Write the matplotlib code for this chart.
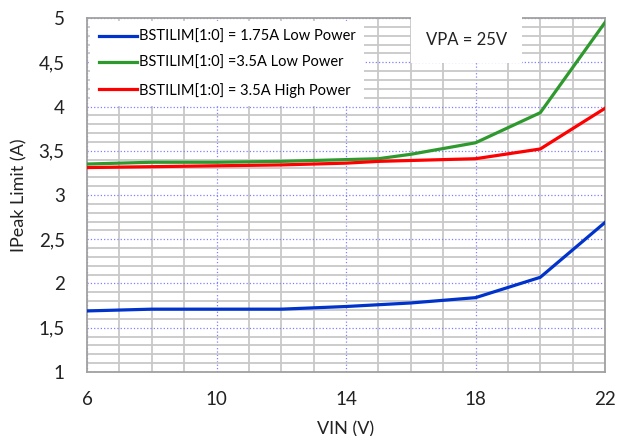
import numpy as np
import matplotlib.pyplot as plt
from matplotlib.ticker import MultipleLocator, FixedLocator, FuncFormatter

plt.rcParams['font.family'] = ['Lato', 'DejaVu Sans']

# data
vin = [6, 8, 10, 12, 14, 15, 16, 18, 20, 22]
low_175 = [1.69, 1.71, 1.71, 1.71, 1.74, 1.76, 1.78, 1.84, 2.07, 2.69]
low_35 = [3.35, 3.37, 3.37, 3.38, 3.40, 3.41, 3.46, 3.59, 3.93, 4.95]
high_35 = [3.31, 3.32, 3.33, 3.34, 3.36, 3.38, 3.39, 3.41, 3.52, 3.98]
x_ticks = [6, 10, 14, 18, 22]
labels = ["BSTILIM[1:0] = 1.75A Low Power",
          "BSTILIM[1:0] =3.5A Low Power",
          "BSTILIM[1:0] = 3.5A High Power"]
colors = ["#0033cc", "#2e9a2e", "#ff0000"]

fig = plt.figure(figsize=(6.18, 4.36), dpi=100)
ax = fig.add_axes([0.1408, 0.1468, 0.979 - 0.1408, 0.9587 - 0.1468])

for y, lab, c in zip([low_175, low_35, high_35], labels, colors):
    ax.plot(vin, y, color=c, lw=2.3, label=lab, zorder=3)

ax.set_xlim(6, 22)
ax.set_ylim(1, 5)
ax.xaxis.set_major_locator(FixedLocator(x_ticks))
ax.xaxis.set_minor_locator(MultipleLocator(1))
ax.yaxis.set_major_locator(MultipleLocator(0.5))
ax.yaxis.set_minor_locator(MultipleLocator(0.1))
ax.yaxis.set_major_formatter(FuncFormatter(lambda v, p: ('%g' % v).replace('.', ',')))

ax.grid(which='minor', color='#c8c8c8', lw=1.3, zorder=0)
ax.grid(which='major', color='#8080ff', lw=0.9, ls=':', zorder=1)
ax.set_axisbelow(True)
ax.tick_params(which='both', length=0, labelsize=13.5, colors='#222222')
ax.tick_params(axis='x', pad=14)
ax.tick_params(axis='y', pad=16)
for s in ax.spines.values():
    s.set_color('#a0a0a0')
    s.set_linewidth(1.3)

ax.set_xlabel("VIN (V)", fontsize=13, color='#222222', labelpad=9)
ax.set_ylabel("IPeak Limit (A)", fontsize=13, color='#222222', labelpad=8)

leg = ax.legend(loc='upper left', bbox_to_anchor=(0.0, 1.0), fontsize=10.5,
                frameon=True, fancybox=False, edgecolor='none', framealpha=1,
                handlelength=2.6, handletextpad=0.15, labelspacing=0.85,
                borderaxespad=0.2, borderpad=0.6)
leg.get_frame().set_facecolor('white')

ax.text(0.732, 0.938, "VPA = 25V", transform=ax.transAxes, ha='center', va='center',
        fontsize=12, color='#222222', zorder=5,
        bbox=dict(boxstyle='square,pad=0.9', fc='white', ec='none'))

fig.savefig("out.png", dpi=100)
